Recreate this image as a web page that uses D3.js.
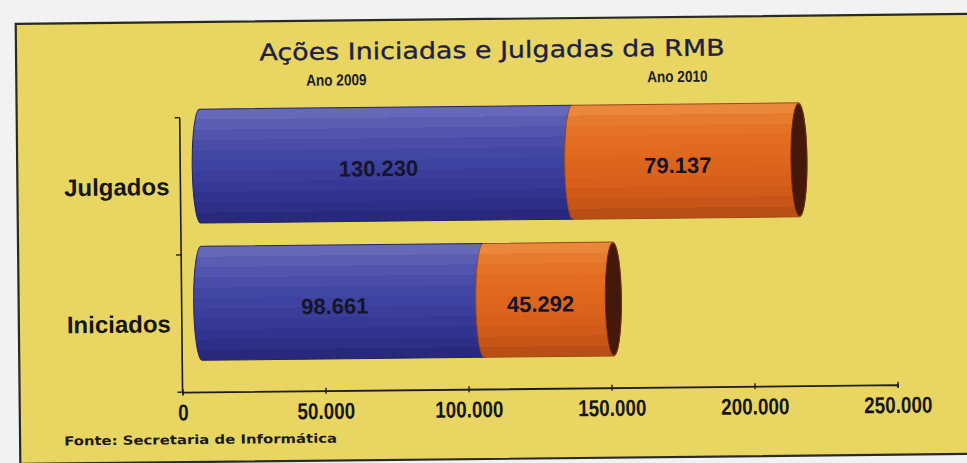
<!DOCTYPE html>
<html>
<head>
<meta charset="utf-8">
<script src="https://cdn.jsdelivr.net/npm/d3@7"></script>
<style>
  html, body { margin: 0; padding: 0; background: #f1f2f1; }
  svg { display: block; }
</style>
</head>
<body>
<svg id="chart" width="967" height="463"></svg>
<script>
// Ações iniciadas e julgadas na RMB, por ano
const categories = ["Julgados", "Iniciados"];
const years = ["Ano 2009", "Ano 2010"];
const values2009 = [130230, 98661];
const values2010 = [79137, 45292];
const xTicks = [0, 50000, 100000, 150000, 200000, 250000];
const title = "Ações Iniciadas e Julgadas da RMB";
const source = "Fonte: Secretaria de Informática";

const W = 967, H = 463;
const svg = d3.select("#chart");

const fmt = v => d3.format(",")(v).replace(/,/g, ".");

// panel
svg.append("rect").attr("x", 0).attr("y", 0).attr("width", W).attr("height", H).attr("fill", "#f1f2f1");
const page = svg.append("g").attr("transform", "rotate(-0.6, 483, 240)");
page.append("rect")
  .attr("x", 18).attr("y", 19).attr("width", 970).attr("height", 440)
  .attr("fill", "#e9d662").attr("stroke", "#2a2a24").attr("stroke-width", 2.2);

// scales
const x = d3.scaleLinear().domain([0, 250000]).range([181, 896]);
const y = d3.scaleBand().domain(categories).range([114.5, 389])
  .paddingInner(0.17).paddingOuter(0.085);
const dx = 20, dy = -20;   // depth offset of the 3D bars
const sans = "'Liberation Sans', Arial, sans-serif";
const narrowScale = "scale(0.82,1)";   // condensed look for the narrow labels

// banded gradients for the cylinders
const defs = svg.append("defs");
const bands = {
  blue: ["#6669b9", "#5a5eb3", "#5155ad", "#494da8", "#4347a4", "#3e42a0", "#3a3d9a", "#353894", "#31348e", "#2d2f87", "#28297d"],
  orange: ["#ea873a", "#e77b2d", "#e47325", "#e26d21", "#e0691e", "#de661c", "#db631b", "#d75f1a", "#d05a18", "#c75518", "#ba4f16"]
};
Object.entries(bands).forEach(([name, cols]) => {
  const g = defs.append("linearGradient").attr("id", "g-" + name)
    .attr("x1", 0).attr("y1", 0).attr("x2", 0).attr("y2", 1);
  cols.forEach((c, i) => {
    g.append("stop").attr("offset", i / cols.length).attr("stop-color", c);
    g.append("stop").attr("offset", (i + 1) / cols.length).attr("stop-color", c);
  });
});

// title and year subtitles
page.append("text").attr("x", 494).attr("y", 58).attr("text-anchor", "middle")
  .attr("font-family", "'DejaVu Sans', sans-serif").attr("font-size", 23)
  .attr("fill", "#1e1e46").attr("stroke", "#1e1e46").attr("stroke-width", 0.35)
  .attr("textLength", 465).attr("lengthAdjust", "spacingAndGlyphs")
  .text(title);
const yearX = [338, 679];
page.selectAll("g.year").data(years).join("g").attr("class", "year")
  .attr("transform", (d, i) => `translate(${yearX[i]},84)`)
  .append("text").attr("transform", "scale(0.85,1)").attr("text-anchor", "middle")
  .attr("font-family", sans).attr("font-weight", "bold").attr("font-size", 16)
  .attr("fill", "#1c1c2a").text(d => d);

// axes
const axisColor = "#1d1d1d";
const yBounds = categories.map(c => y(c) - (y.step() - y.bandwidth()) / 2).concat([y.range()[1]]);
page.append("line").attr("x1", x(0)).attr("x2", x(0)).attr("y1", y.range()[0]).attr("y2", y.range()[1])
  .attr("stroke", axisColor).attr("stroke-width", 1.6);
page.selectAll("line.ytick").data(yBounds).join("line").attr("class", "ytick")
  .attr("x1", x(0) - 5).attr("x2", x(0)).attr("y1", d => d).attr("y2", d => d)
  .attr("stroke", axisColor).attr("stroke-width", 1.4);

const xAxis = d3.axisBottom(x).tickValues(xTicks).tickSize(3).tickPadding(9).tickFormat(fmt);
const xg = page.append("g").attr("transform", `translate(0,${y.range()[1]})`).call(xAxis);
xg.select(".domain").attr("stroke", axisColor).attr("stroke-width", 1.8);
xg.selectAll(".tick line").attr("stroke", axisColor).attr("stroke-width", 1.4).attr("y1", -3);
xg.selectAll(".tick text").attr("font-family", sans).attr("font-weight", "bold")
  .attr("font-size", 23).attr("fill", "#161616")
  .attr("transform", narrowScale);

// category labels
page.selectAll("text.cat").data(categories).join("text").attr("class", "cat")
  .attr("x", 170).attr("y", d => y(d) + y.bandwidth() / 2).attr("dy", "0.36em")
  .attr("text-anchor", "end").attr("font-family", sans)
  .attr("font-weight", "bold").attr("font-size", 24).attr("fill", "#161616")
  .text(d => d);

// cylinder segments
const segs = [];
categories.forEach((c, i) => {
  segs.push({ cat: c, v0: 0, v1: values2009[i], val: values2009[i], col: "blue", last: false });
  segs.push({ cat: c, v0: values2009[i], v1: values2009[i] + values2010[i], val: values2010[i], col: "orange", last: true });
});
const rx = 8;
const bh = y.bandwidth();
function body(d) {
  const xa = x(d.v0) + dx, xb = x(d.v1) + dx, yt = y(d.cat) + dy, yb = yt + bh, ry = bh / 2;
  return `M${xa},${yt}L${xb},${yt}A${rx},${ry} 0 0 1 ${xb},${yb}L${xa},${yb}A${rx},${ry} 0 0 1 ${xa},${yt}Z`;
}
const stroke = { blue: "#23245e", orange: "#9a4a1a" };
page.selectAll("path.seg").data(segs).join("path").attr("class", "seg")
  .attr("d", body).attr("fill", d => `url(#g-${d.col})`)
  .attr("stroke", d => stroke[d.col]).attr("stroke-width", 1);
page.selectAll("ellipse.cap").data(segs.filter(d => d.last)).join("ellipse").attr("class", "cap")
  .attr("cx", d => x(d.v1) + dx).attr("cy", d => y(d.cat) + dy + bh / 2)
  .attr("rx", rx).attr("ry", bh / 2 - 1)
  .attr("fill", "#44190c").attr("stroke", "#6b2c12").attr("stroke-width", 1);

// value labels
page.selectAll("text.val").data(segs).join("text").attr("class", "val")
  .attr("x", d => x((d.v0 + d.v1) / 2) + 12).attr("y", d => y(d.cat) + dy + bh / 2 + 4).attr("dy", "0.36em")
  .attr("text-anchor", "middle").attr("font-family", sans)
  .attr("font-weight", "bold").attr("font-size", 22).attr("fill", "#15152a")
  .text(d => fmt(d.val));

// source note
page.append("text").attr("x", 62).attr("y", 441)
  .attr("font-family", "'DejaVu Sans', Verdana, sans-serif").attr("font-weight", "bold")
  .attr("font-size", 12.5).attr("fill", "#1b1b1b")
  .attr("textLength", 273).attr("lengthAdjust", "spacingAndGlyphs")
  .text(source);
</script>
</body>
</html>
